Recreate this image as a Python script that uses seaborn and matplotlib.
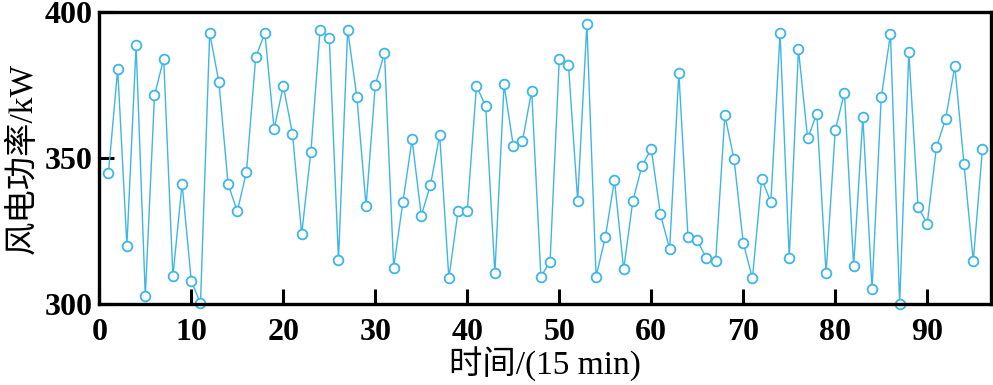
import matplotlib
matplotlib.use("Agg")
import matplotlib.pyplot as plt
import seaborn as sns
import pandas as pd

power = [345.1, 380.6, 320.1, 388.7, 302.7, 371.6, 384.1, 309.6, 341.3, 308.0,
         300.3, 392.9, 376.1, 341.2, 331.8, 345.4, 384.6, 392.9, 360.0, 374.8,
         358.4, 324.1, 352.2, 394.1, 391.3, 315.2, 394.1, 370.9, 333.6, 375.1,
         386.1, 312.6, 335.0, 356.5, 330.4, 340.8, 358.0, 308.9, 332.0, 332.0,
         374.8, 367.9, 310.6, 375.3, 354.3, 355.9, 373.2, 309.5, 314.6, 384.0,
         382.0, 335.5, 396.0, 309.5, 322.9, 342.5, 312.0, 335.5, 347.5, 353.2,
         330.8, 318.9, 379.3, 322.9, 321.9, 315.8, 314.7, 364.8, 349.7, 321.0,
         308.9, 343.0, 335.0, 392.9, 315.8, 387.3, 356.8, 365.3, 310.6, 359.6,
         372.5, 313.1, 364.0, 305.3, 370.9, 392.5, 300.0, 386.5, 333.4, 327.6,
         353.8, 363.6, 381.5, 347.9, 314.7, 353.2]
time_idx = list(range(1, len(power) + 1))
x_ticks = [0, 10, 20, 30, 40, 50, 60, 70, 80, 90]
y_ticks = [300, 350, 400]

df = pd.DataFrame({"t": time_idx, "p": power})

sns.set_theme(style="white")
plt.rcParams["font.family"] = ["Liberation Serif", "Noto Sans CJK SC"]
plt.rcParams["text.color"] = "black"
plt.rcParams["axes.labelcolor"] = "black"

fig = plt.figure(figsize=(9.93, 3.85), dpi=100)
ax = fig.add_axes([0.100, 0.2096, 0.8977, 0.7584])

color = "#3fb6e6"
sns.lineplot(data=df, x="t", y="p", ax=ax, color=color, linewidth=1.0,
             marker="o", markersize=7, markerfacecolor="white",
             markeredgecolor=color, markeredgewidth=1.3, clip_on=False)

ax.set_xlim(0, 96.9)
ax.set_ylim(300, 400)
ax.set_xticks(x_ticks)
ax.set_yticks(y_ticks)
ax.tick_params(axis="both", direction="in", length=11, width=2.2,
               labelsize=23, colors="black")
ax.tick_params(axis="x", pad=10)
ax.tick_params(axis="y", pad=5)
ax.tick_params(top=False, right=False, bottom=True, left=True)
for lbl in ax.get_xticklabels() + ax.get_yticklabels():
    lbl.set_fontweight("bold")
for s in ax.spines.values():
    s.set_linewidth(2.4)
    s.set_color("black")

ax.set_xlabel("时间/(15 min)", fontsize=24, labelpad=0, color="black")
ax.set_ylabel("风电功率/kW", fontsize=24, labelpad=4, color="black")

fig.savefig("out.png", dpi=100)
